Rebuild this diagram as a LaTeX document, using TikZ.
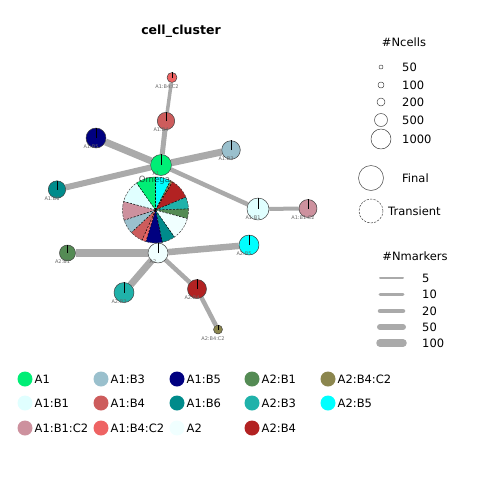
\documentclass[tikz,border=0pt]{standalone}
\usepackage{fontspec}
\setmainfont{DejaVu Sans}
\usetikzlibrary{backgrounds}
\definecolor{colA1}{HTML}{00EE76}
\definecolor{colA1B1}{HTML}{E0FFFF}
\definecolor{colA1B1C2}{HTML}{CD919E}
\definecolor{colA1B3}{HTML}{9AC0CD}
\definecolor{colA1B4}{HTML}{CD5C5C}
\definecolor{colA1B4C2}{HTML}{EE6363}
\definecolor{colA1B5}{HTML}{000080}
\definecolor{colA1B6}{HTML}{008B8B}
\definecolor{colA2}{HTML}{F0FFFF}
\definecolor{colA2B1}{HTML}{548B54}
\definecolor{colA2B3}{HTML}{20B2AA}
\definecolor{colA2B4}{HTML}{B22222}
\definecolor{colA2B4C2}{HTML}{8B864E}
\definecolor{colA2B5}{HTML}{00FFFF}
\definecolor{edgegray}{HTML}{AAAAAA}
\begin{document}
\begin{tikzpicture}[x=1pt, y=-1pt, line join=round, line cap=round,
  cl/.style={circle, draw=black!75, line width=0.5pt, inner sep=0pt, minimum size=#1},
  lk/.style={draw=edgegray, line width=#1, line cap=butt},
  tag/.style={font=\fontsize{5}{5}\selectfont, text=black!60, inner sep=0pt},
  tg/.style={label={[tag, xshift=-5pt, yshift=-9pt]center:{#1}}},
  lgd/.style={font=\fontsize{11.5}{13}\selectfont, inner sep=0pt}]
\useasboundingbox (0,0) rectangle (480,480);
\node[font=\bfseries\fontsize{12.5}{14}\selectfont] (ttl) at (181,31) {cell\_cluster};
% Omega pie
\def\pr{33}
\coordinate (Omc) at (155.5,210);
\foreach \s/\e/\c in {-90/-63/colA2B5, -63/-59/colA2B4C2, -59/-23/colA2B4, -23/-2/colA2B3,
  -2/15/colA2B1, 15/55/colA2, 55/78/colA1B6, 78/107/colA1B5, 107/114/colA1B4C2,
  114/137/colA1B4, 137/162/colA1B3, 162/195/colA1B1C2, 195/235/colA1B1, 235/270/colA1}
  \fill[\c] (Omc) -- ++(\s:\pr) arc[start angle=\s, end angle=\e, radius=\pr] -- cycle;
\foreach \s in {-90,-63,-59,-23,-2,15,55,78,107,114,137,162,195,235}
  \draw[line width=0.5pt, dash pattern=on 2pt off 1.5pt] (Omc) -- ++(\s:\pr);
\node[cl=66pt, dash pattern=on 2pt off 1.5pt] (Om) at (Omc) {};
% clusters
\node[cl=21pt, fill=colA1, tg=A1] (A1) at (161,165) {};
\node[cl=17.4pt, fill=colA1B4, tg=A1:B4] (A1B4) at (166,121) {};
\node[cl=10pt, fill=colA1B4C2, tg=A1:B4:C2] (A1B4C2) at (172,77.5) {};
\node[cl=20pt, fill=colA1B5, tg=A1:B5] (A1B5) at (96,138) {};
\node[cl=18.6pt, fill=colA1B3, tg=A1:B3] (A1B3) at (231,150) {};
\node[cl=17.4pt, fill=colA1B6, tg=A1:B6] (A1B6) at (57,189.5) {};
\node[cl=22pt, fill=colA1B1, tg=A1:B1] (A1B1) at (258,209) {};
\node[cl=18pt, fill=colA1B1C2, tg=A1:B1:C2] (A1B1C2) at (308,208.5) {};
\node[cl=20pt, fill=colA2, tg=A2] (A2) at (158,253) {};
\node[cl=16pt, fill=colA2B1, tg=A2:B1] (A2B1) at (67.5,253) {};
\node[cl=20pt, fill=colA2B5, tg=A2:B5] (A2B5) at (249,245) {};
\node[cl=20pt, fill=colA2B3, tg=A2:B3] (A2B3) at (124,292.5) {};
\node[cl=19pt, fill=colA2B4, tg=A2:B4] (A2B4) at (197,289) {};
\node[cl=9pt, fill=colA2B4C2, tg=A2:B4:C2] (A2B4C2) at (218,329.5) {};
\foreach \n in {A1,A1B4,A1B4C2,A1B5,A1B3,A1B6,A1B1,A1B1C2,A2,A2B1,A2B5,A2B3,A2B4,A2B4C2}
  \draw[line width=1pt, line cap=butt] (\n.center) -- (\n.north);
\node[font=\fontsize{8.6}{9}\selectfont, text=black, text opacity=0.6, inner sep=0pt] (omLab) at (154.5,180) {Omega};
% links
\begin{pgfonlayer}{background}
\draw[lk=7pt] (A1) -- (A1B5);
\draw[lk=6pt] (A1) -- (A1B6);
\draw[lk=7pt] (A1) -- (A1B3);
\draw[lk=5pt] (A1) -- (A1B4);
\draw[lk=3.5pt] (A1B4) -- (A1B4C2);
\draw[lk=4.5pt] (A1) -- (A1B1);
\draw[lk=4pt] (A1B1) -- (A1B1C2);
\draw[lk=7.5pt] (A2) -- (A2B1);
\draw[lk=6.5pt] (A2) -- (A2B5);
\draw[lk=7pt] (A2) -- (A2B3);
\draw[lk=4.5pt] (A2) -- (A2B4);
\draw[lk=4.5pt] (A2B4) -- (A2B4C2);
\end{pgfonlayer}
% legend: size
\node[lgd] (tN) at (404,42) {\#Ncells};
\foreach \v/\y/\r in {50/67/2, 100/85/3, 200/102/4, 500/120/6.5, 1000/139/10} {
  \node[cl=2*\r pt, draw=black!75] (s\v) at (381,\y) {};
  \node[lgd, anchor=west] (t\v) at (402,\y) {\v};
}
\node[cl=25pt] (fin) at (371,178) {};
\node[lgd, anchor=west] (tfin) at (402,178) {Final};
\node[cl=24pt, dash pattern=on 2pt off 1.5pt] (tra) at (371,211) {};
\node[lgd, anchor=west] (ttra) at (388,211) {Transient};
% legend: markers
\node[lgd] (tM) at (415,256) {\#Nmarkers};
\foreach \v/\y/\w in {5/278/2, 10/294/3, 20/311/4.5, 50/327/6, 100/343/7.5} {
  \coordinate (ma\v) at (380,\y);
  \coordinate (mb\v) at (403,\y);
  \draw[draw=edgegray, line width=\w pt] (ma\v) -- (mb\v);
  \node[lgd, anchor=west] (m\v) at (422,\y) {\v};
}
% legend: clusters
\foreach \t/\c/\x/\y in {A1/colA1/25/379, A1:B1/colA1B1/25/403, A1:B1:C2/colA1B1C2/25/428,
  A1:B3/colA1B3/101/379, A1:B4/colA1B4/101/403, A1:B4:C2/colA1B4C2/101/428,
  A1:B5/colA1B5/177/379, A1:B6/colA1B6/177/403, A2/colA2/177/428,
  A2:B1/colA2B1/252/379, A2:B3/colA2B3/252/403, A2:B4/colA2B4/252/428,
  A2:B4:C2/colA2B4C2/328/379, A2:B5/colA2B5/328/403} {
  \node[circle, fill=\c, inner sep=0pt, minimum size=15pt] (k\x\y) at (\x,\y) {};
  \node[lgd, anchor=west] at (\x+9.5,\y) {\t};
}
\end{tikzpicture}
\end{document}
